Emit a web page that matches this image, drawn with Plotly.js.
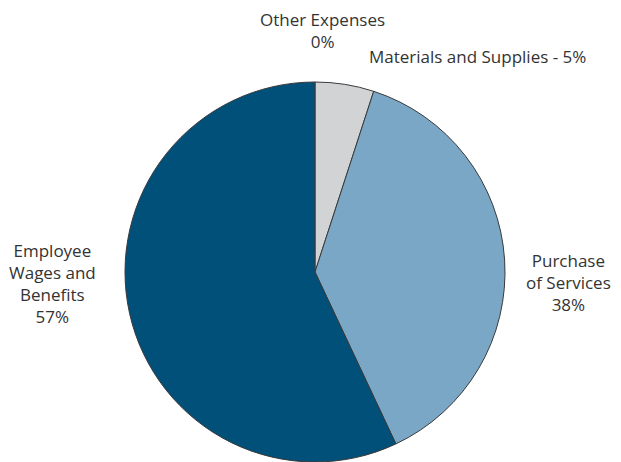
<!DOCTYPE html>
<html><head><meta charset="utf-8">
<script src="https://cdn.plot.ly/plotly-3.0.1.min.js"></script>
<style>html,body{margin:0;padding:0;background:#fff}#chart{width:621px;height:462px}</style>
</head><body><div id="chart"></div>
<script>
var categories = ["Other Expenses", "Materials and Supplies", "Purchase of Services", "Employee Wages and Benefits"];
var values = [0, 5, 38, 57];
var labelTexts = ["Other Expenses<br>0%", "Materials and Supplies - 5%", "Purchase<br>of Services<br>38%", "Employee<br>Wages and<br>Benefits<br>57%"];
var colors = ["#d1d3d4", "#d1d3d4", "#7ba7c7", "#005079"];

var W = 621, H = 462;
var labelPos = [[322, 30], [477, 56], [568, 282], [52, 283]];

var trace = {
  type: "pie",
  labels: categories,
  values: values,
  sort: false,
  direction: "clockwise",
  rotation: 0,
  textinfo: "none",
  hoverinfo: "label+percent",
  marker: {colors: colors, line: {color: "#3a3a3a", width: 1}},
  domain: {x: [(315-190)/W, (315+190)/W], y: [(H-462)/H, (H-82)/H]},
  showlegend: false
};

var annotations = labelTexts.map(function(t, i){
  return {text: t, xref: "paper", yref: "paper", x: labelPos[i][0]/W, y: 1 - labelPos[i][1]/H,
    xanchor: "center", yanchor: "middle", showarrow: false, align: "center",
    font: {family: "Open Sans, sans-serif", size: 17, color: "#333333"}};
});

Plotly.newPlot("chart", [trace], {
  width: W, height: H,
  margin: {l: 0, r: 0, t: 0, b: 0},
  paper_bgcolor: "#ffffff",
  annotations: annotations
}, {displayModeBar: false});
</script></body></html>
